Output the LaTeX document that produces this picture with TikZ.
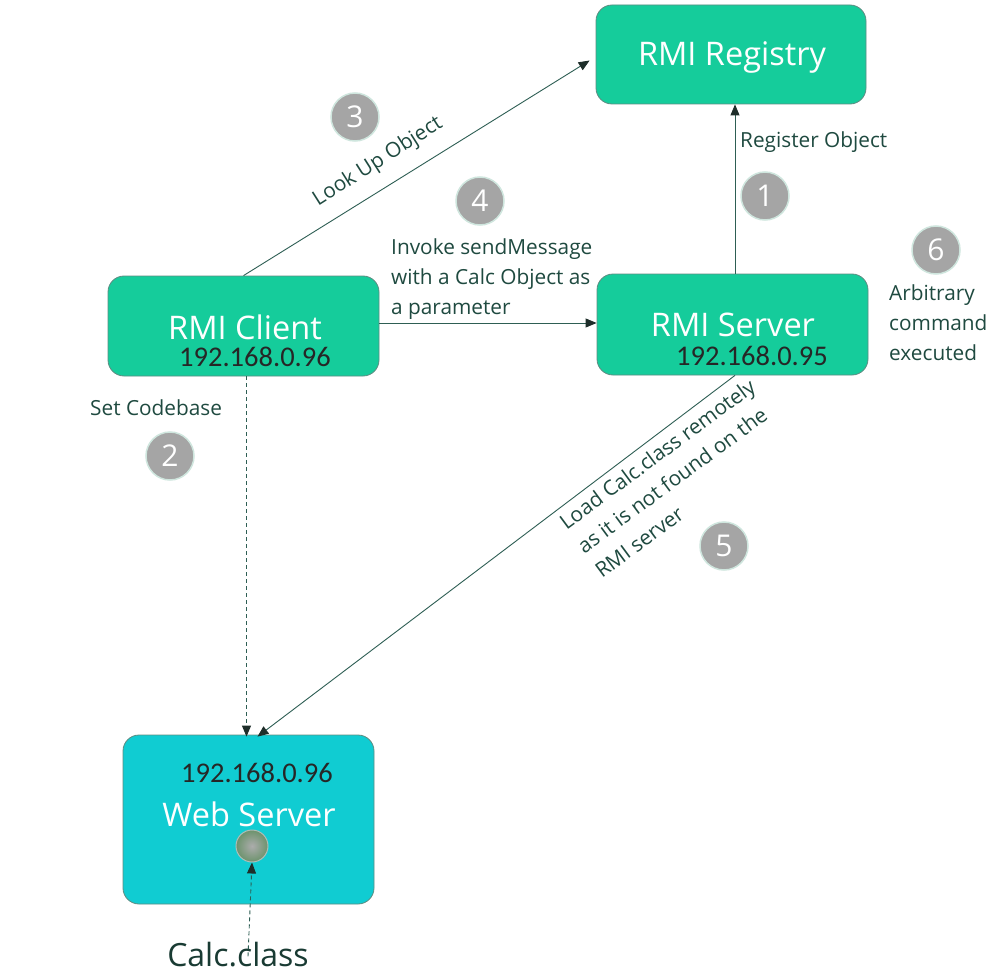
\documentclass[tikz,border=0pt]{standalone}
\usepackage{fontspec}
\setmainfont{Open Sans}
\newfontfamily\ipfont{Carlito}
\usetikzlibrary{arrows.meta}
\definecolor{boxgreen}{HTML}{15CC9B}
\definecolor{boxcyan}{HTML}{10CCD2}
\definecolor{boxedge}{HTML}{5E8C82}
\definecolor{linecol}{HTML}{2E5E54}
\definecolor{tipcol}{HTML}{1E2E2A}
\definecolor{labcol}{HTML}{1F4A40}
\definecolor{numgray}{HTML}{A5A5A5}
\definecolor{numedge}{HTML}{CFE6DE}
\tikzset{
  box/.style={draw=boxedge, line width=0.8pt, rounded corners=16pt, fill=boxgreen,
    inner sep=0pt},
  title/.style={font=\fontsize{32.5}{36}\selectfont, text=white, inner sep=0pt},
  ip/.style={font=\ipfont\fontsize{28.5}{32}\selectfont, text=black!85, inner sep=0pt},
  conn/.style={draw=linecol, line width=0.9pt, -{Triangle[length=11pt,width=9pt,color=tipcol]}},
  dashconn/.style={conn, dash pattern=on 4pt off 3pt},
  lab/.style={font=\fontsize{20.8}{30}\selectfont, text=labcol, inner sep=0pt},
  num/.style={circle, fill=numgray, draw=numedge, line width=1.5pt, minimum size=48pt,
    inner sep=0pt, text=white, font=\fontsize{30}{32}\selectfont}
}
\begin{document}
\begin{tikzpicture}[x=1pt,y=-1pt]
\useasboundingbox[fill=white] (0,0) rectangle (1002,979);

% boxes
\node[box, minimum width=270pt, minimum height=99pt] (reg) at (731,54.5) {};
\node[title] (regt) at (732,57) {RMI Registry};

\node[box, minimum width=271pt, minimum height=100pt] (cli) at (243.5,326) {};
\node[title] (clit) at (245,327) {RMI Client};
\node[ip] (cliip) at (255,357) {192.168.0.96};

\node[box, minimum width=271pt, minimum height=101pt] (srv) at (732.5,324.5) {};
\node[title] (srvt) at (733,325) {RMI Server};
\node[ip] (srvip) at (752,356) {192.168.0.95};

\node[box, fill=boxcyan, minimum width=251pt, minimum height=169pt] (web) at (248.5,819.5) {};
\node[ip] (webip) at (257,773) {192.168.0.96};
\node[title] (webt) at (249,814) {Web Server};
\node[circle, minimum size=32pt, inner sep=0pt, draw=numedge!60!gray, line width=1pt,
  inner color=gray!65, outer color=gray!85!green] (dot) at (252,846) {};

\node[font=\fontsize{32}{36}\selectfont, text=labcol!80!black, inner sep=0pt] (calc) at (238,955) {Calc.class};

% connectors
\draw[conn] ([xshift=2.5pt]srv.north) -- ([xshift=4pt]reg.south);
\draw[conn] (cli.north) -- ([xshift=-6pt,yshift=-6pt]reg.west);
\draw[conn] ([yshift=3pt]cli.east) -- ([yshift=1.5pt]srv.west);
\draw[dashconn] ([xshift=3pt]cli.south) -- ([xshift=3pt,yshift=-2pt]cli.south |- web.north);
\draw[conn] ([xshift=2.5pt]srv.south) -- ([xshift=9pt,yshift=-2pt]web.north);
\draw[dashconn] ([xshift=10pt,yshift=-14pt]calc.north) -- (dot.south);

% labels
\node[lab, anchor=west] (l1) at (740,142) {Register Object};
\node[lab, rotate=32.4] (l3) at (378,162) {Look Up Object};
\node[lab, align=left, anchor=north west] (l4) at (391,238) {Invoke sendMessage\\with a Calc Object as\\a parameter};
\node[lab, anchor=west] (l2) at (90,408) {Set Codebase};
\node[lab, align=left, anchor=north west] (l6) at (889,284) {Arbitrary\\command\\executed};
\node[lab, align=left, rotate=36.4] (l5) at (675,478) {Load Calc.class remotely\\as it is not found on the\\RMI server};

% numbers
\node[num] (n1) at (765,196) {1};
\node[num] (n2) at (170,456) {2};
\node[num] (n3) at (355,117) {3};
\node[num] (n4) at (480,201) {4};
\node[num] (n5) at (724,546) {5};
\node[num] (n6) at (936,250) {6};
\end{tikzpicture}
\end{document}
